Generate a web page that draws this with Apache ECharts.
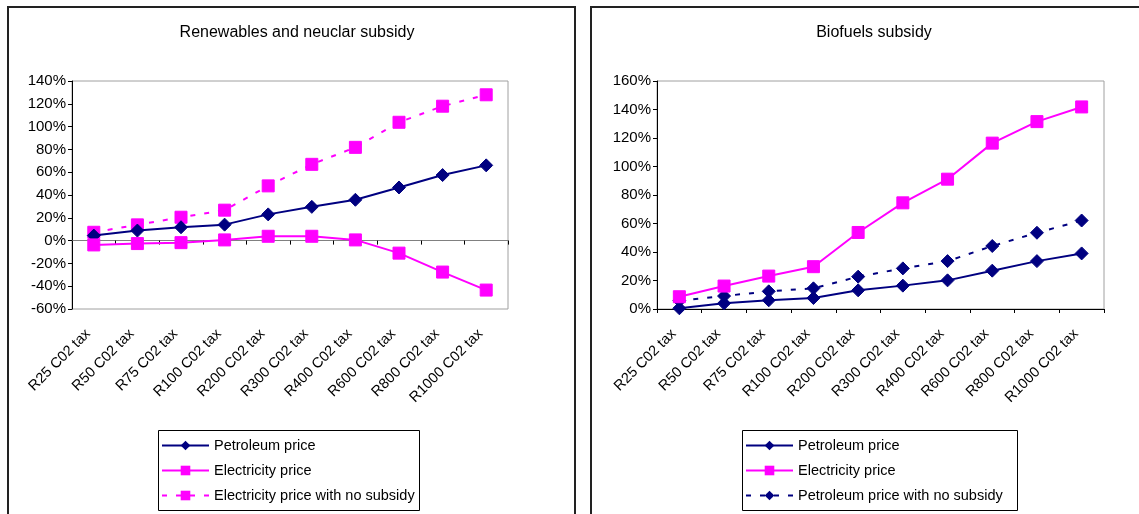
<!DOCTYPE html>
<html><head><meta charset="utf-8">
<script src="https://cdn.jsdelivr.net/npm/echarts@6/dist/echarts.min.js"></script>
<style>html,body{margin:0;padding:0;background:#fff}#c{width:1139px;height:514px}</style>
</head><body><div id="c"></div>
<script>
const categories = ['R25 C02 tax','R50 C02 tax','R75 C02 tax','R100 C02 tax','R200 C02 tax','R300 C02 tax','R400 C02 tax','R600 C02 tax','R800 C02 tax','R1000 C02 tax'];
// Left: Renewables and neuclar subsidy
const leftPetroleum = [0.044, 0.088, 0.117, 0.14, 0.23, 0.296, 0.358, 0.466, 0.575, 0.66];
const leftElectricity = [-0.038, -0.026, -0.018, 0.006, 0.038, 0.038, 0.006, -0.11, -0.276, -0.434];
const leftElectricityNoSubsidy = [0.073, 0.138, 0.205, 0.267, 0.48, 0.669, 0.818, 1.038, 1.179, 1.279];
// Right: Biofuels subsidy
const rightPetroleum = [0.005, 0.04, 0.061, 0.077, 0.131, 0.164, 0.201, 0.269, 0.336, 0.39];
const rightElectricity = [0.086, 0.161, 0.231, 0.297, 0.537, 0.745, 0.911, 1.164, 1.315, 1.418];
const rightPetroleumNoSubsidy = [0.058, 0.091, 0.124, 0.145, 0.227, 0.285, 0.336, 0.442, 0.535, 0.621];
const leftTicks = {min: -0.6, max: 1.4, interval: 0.2};
const rightTicks = {min: 0, max: 1.6, interval: 0.2};

const FONT = "'Liberation Sans', Arial, sans-serif";
const NAVY = '#000080', MAG = '#FF00FF';
const pct = v => Math.round(v * 100) + '%';

const chart = echarts.init(document.getElementById('c'));
function yAx(grid, t) {
  return {type:'value', gridIndex:grid, min:t.min, max:t.max, interval:t.interval,
    axisLine:{show:true, lineStyle:{color:'#000', width:1}},
    axisTick:{show:true, length:4, lineStyle:{color:'#000'}},
    axisLabel:{formatter:pct, color:'#000', fontFamily:FONT, fontSize:15, margin:6},
    splitLine:{show:false}};
}
function xLabels(grid, lineShow, lineColor) {
  return {type:'category', gridIndex:grid, data:categories, boundaryGap:true,
    axisLine:{show:lineShow, onZero:false, lineStyle:{color:lineColor}},
    axisTick:{show:lineShow, length:4, interval:0, lineStyle:{color:'#000'}},
    axisLabel:{rotate:45, interval:0, color:'#000', fontFamily:FONT, fontSize:14.5, margin:17, padding:[0,8,0,0]}};
}
function ser(name, x, y, data, color, symbol, size, dashed) {
  return {name, type:'line', xAxisIndex:x, yAxisIndex:y, data,
    symbol, symbolSize:size, showSymbol:true, animation:false,
    lineStyle:{color, width:2, type: dashed ? [5,9] : 'solid'},
    itemStyle:{color, borderColor:color}, z: dashed ? 2 : 3};
}
const legendCommon = {orient:'vertical', itemWidth:47, itemHeight:12, itemGap:13 - 3, padding:0, height:120,
  textStyle:{fontFamily:FONT, fontSize:14.5, color:'#000'}, selectedMode:false};

chart.setOption({
  animation:false,
  title:[
    {text:'Renewables and neuclar subsidy', left:292, top:20, textAlign:'center',
     textStyle:{fontFamily:FONT, fontSize:16, fontWeight:'normal', color:'#000'}},
    {text:'Biofuels subsidy', left:869, top:20, textAlign:'center',
     textStyle:{fontFamily:FONT, fontSize:16, fontWeight:'normal', color:'#000'}}
  ],
  grid:[
    {left:72, top:81, width:436, height:228, show:true, borderColor:'#a0a0a0', borderWidth:1, backgroundColor:'transparent'},
    {left:657, top:81, width:447, height:228, show:true, borderColor:'#a0a0a0', borderWidth:1, backgroundColor:'transparent'}
  ],
  xAxis:[
    xLabels(0, false, '#a0a0a0'),
    {type:'category', gridIndex:0, data:categories, boundaryGap:true, position:'bottom',
     axisLine:{show:true, onZero:true, lineStyle:{color:'#808080', width:1}},
     axisTick:{show:true, length:4, interval:0, lineStyle:{color:'#000'}},
     axisLabel:{show:false}},
    xLabels(1, true, '#000')
  ],
  yAxis:[yAx(0, leftTicks), yAx(1, rightTicks)],
  legend:[
    Object.assign({left:161, top:438, data:['Petroleum price','Electricity price','Electricity price with no subsidy']}, legendCommon),
    Object.assign({left:745, top:438, data:['Petroleum price','Electricity price','Petroleum price with no subsidy']}, legendCommon)
  ],
  graphic:[
    {type:'rect', shape:{x:8, y:7, width:567, height:530}, style:{fill:null, stroke:'#222', lineWidth:2}, z:-1},
    {type:'rect', shape:{x:591, y:7, width:570, height:530}, style:{fill:null, stroke:'#222', lineWidth:2}, z:-1},
    {type:'rect', shape:{x:158.5, y:430.5, width:261, height:80}, style:{fill:'#fff', stroke:'#000', lineWidth:1}, z:-1},
    {type:'rect', shape:{x:742.5, y:430.5, width:275, height:80}, style:{fill:'#fff', stroke:'#000', lineWidth:1}, z:-1}
  ],
  series:[
    ser('Electricity price with no subsidy', 0, 0, leftElectricityNoSubsidy, MAG, 'rect', 12, true),
    ser('Petroleum price', 0, 0, leftPetroleum, NAVY, 'diamond', 13, false),
    ser('Electricity price', 0, 0, leftElectricity, MAG, 'rect', 12, false),
    ser('Petroleum price with no subsidy', 2, 1, rightPetroleumNoSubsidy, NAVY, 'diamond', 13, true),
    ser('Petroleum price', 2, 1, rightPetroleum, NAVY, 'diamond', 13, false),
    ser('Electricity price', 2, 1, rightElectricity, MAG, 'rect', 12, false)
  ]
});
</script></body></html>
